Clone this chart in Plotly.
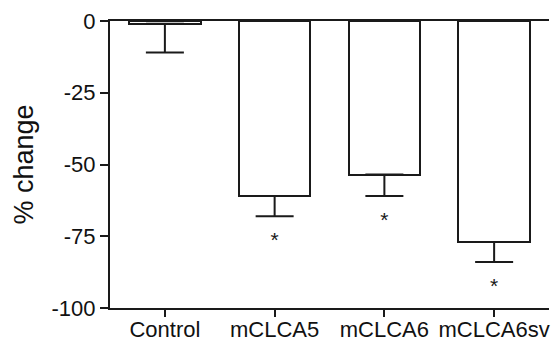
import plotly.graph_objects as go

categories = ["Control", "mCLCA5", "mCLCA6", "mCLCA6sv"]
means = [-1.0, -61.0, -53.5, -77.0]
sem = [10.0, 7.0, 7.5, 7.0]
stars = ["", "*", "*", "*"]
y_ticks = [0, -25, -50, -75, -100]

line_col = "#1a1a1a"
font_fam = "Liberation Sans, Arial, sans-serif"

fig = go.Figure()
fig.add_trace(go.Bar(
    x=categories, y=means, width=0.65,
    marker=dict(color="white", line=dict(color=line_col, width=2)),
    error_y=dict(type="data", symmetric=False, array=[0] * len(sem), arrayminus=sem,
                 color=line_col, thickness=2, width=19),
    showlegend=False,
))

star_y = [m - s - 9 for m, s in zip(means, sem)]
fig.add_trace(go.Scatter(
    x=categories, y=star_y, mode="text", text=stars,
    textfont=dict(family=font_fam, size=21, color=line_col),
    textposition="middle center", showlegend=False, hoverinfo="skip",
))

# page body has an 8px margin, so the figure is sized to fit the remaining window
fig.update_layout(
    width=552, height=340,
    margin=dict(l=102, r=11, t=13, b=40, autoexpand=False),
    plot_bgcolor="white", paper_bgcolor="white",
    font=dict(family=font_fam, color="#111"),
    bargap=0,
)
fig.update_xaxes(
    type="category", range=[-0.5, 3.5], automargin=False,
    showline=True, linecolor=line_col, linewidth=2, mirror=True,
    ticks="outside", ticklen=7, tickwidth=2, tickcolor=line_col,
    tickfont=dict(size=22, family=font_fam, color="#111"),
    ticklabelstandoff=-6,
    showgrid=False, zeroline=False,
)
fig.update_yaxes(
    range=[-100, 0], tickvals=y_ticks, ticktext=[str(v) for v in y_ticks],
    automargin=False,
    showline=True, linecolor=line_col, linewidth=2,
    ticks="outside", ticklen=8, tickwidth=2, tickcolor=line_col,
    tickfont=dict(size=22, family=font_fam, color="#111"),
    showgrid=False, zeroline=False,
    title=dict(text="% change", font=dict(size=27, family=font_fam, color="#111"), standoff=10),
)

fig.write_html("out.html")
